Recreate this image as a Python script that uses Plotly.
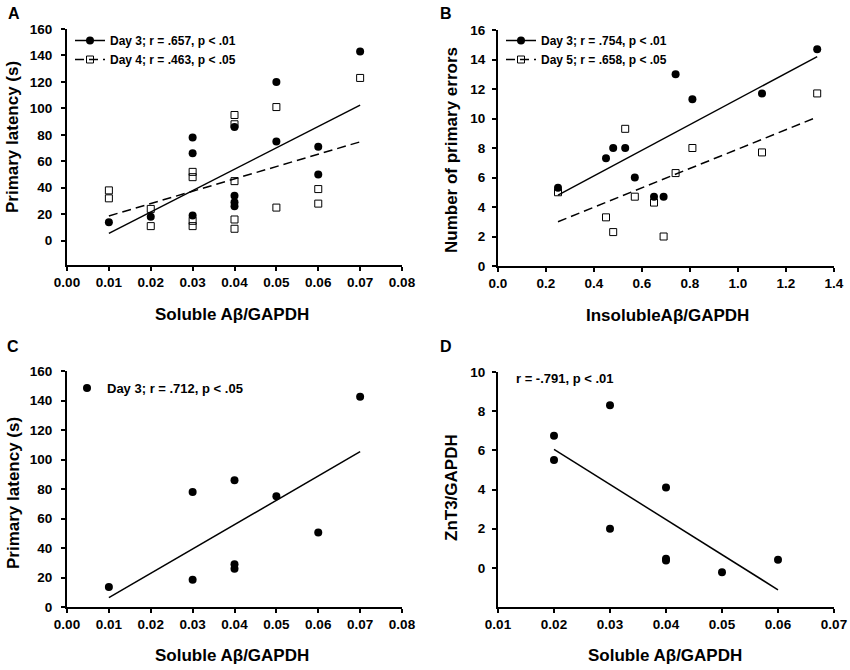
import plotly.graph_objects as go
from plotly.subplots import make_subplots

W, H = 850, 670

# panel A: soluble Abeta vs primary latency
a_x_day3 = [0.01, 0.02, 0.03, 0.03, 0.03, 0.04, 0.04, 0.04, 0.04, 0.05, 0.05, 0.06, 0.06, 0.07]
a_y_day3 = [14, 18, 78, 66, 19, 86, 34, 29, 26, 120, 75, 71, 50, 143]
a_x_day4 = [0.01, 0.01, 0.02, 0.02, 0.03, 0.03, 0.03, 0.03, 0.04, 0.04, 0.04, 0.04, 0.04,
            0.05, 0.05, 0.06, 0.06, 0.07]
a_y_day4 = [38, 32, 24, 11, 52, 48, 15, 11, 95, 88, 45, 16, 9, 101, 25, 39, 28, 123]
a_fit_x = [0.01, 0.07]
a_fit_day3 = [5.5, 102.5]
a_fit_day4 = [18.7, 74.7]

# panel B: insoluble Abeta vs number of primary errors
b_x = [0.25, 0.45, 0.48, 0.53, 0.57, 0.65, 0.69, 0.74, 0.81, 1.10, 1.33]
b_y_day3 = [5.3, 7.3, 8.0, 8.0, 6.0, 4.7, 4.7, 13.0, 11.3, 11.7, 14.7]
b_y_day5 = [5.0, 3.3, 2.3, 9.3, 4.7, 4.3, 2.0, 6.3, 8.0, 7.7, 11.7]
b_fit_x = [0.25, 1.33]
b_fit_day3 = [4.8, 14.2]
b_fit_day5 = [3.0, 10.1]

# panel C: soluble Abeta vs primary latency (day 3 subset)
c_x = [0.01, 0.03, 0.03, 0.04, 0.04, 0.04, 0.05, 0.06, 0.07]
c_y = [13.5, 78, 18.5, 86, 29, 26, 75, 50.5, 142.5]
c_fit_x = [0.01, 0.07]
c_fit_y = [6.3, 105.3]

# panel D: soluble Abeta vs ZnT3
d_x = [0.02, 0.02, 0.03, 0.03, 0.04, 0.04, 0.04, 0.05, 0.06]
d_y = [6.75, 5.5, 8.3, 2.0, 4.1, 0.46, 0.37, -0.22, 0.41]
d_fit_x = [0.02, 0.06]
d_fit_y = [6.05, -1.12]

FONT = "Liberation Sans, Arial, sans-serif"


def px(x):
    """window pixel -> paper fraction"""
    return x / W


def py(y):
    return 1 - y / H


fig = make_subplots(rows=2, cols=2)

filled = dict(symbol="circle", size=8, color="black")
hollow = dict(symbol="square-open", size=7, color="black", line=dict(width=1))
solid = dict(color="black", width=1.5)
dashed = dict(color="black", width=1.5, dash="9px,5px")

# A
fig.add_trace(go.Scatter(x=a_x_day3, y=a_y_day3, mode="markers", marker=filled, showlegend=False), 1, 1)
fig.add_trace(go.Scatter(x=a_x_day4, y=a_y_day4, mode="markers", marker=hollow, showlegend=False), 1, 1)
fig.add_trace(go.Scatter(x=a_fit_x, y=a_fit_day3, mode="lines", line=solid, showlegend=False), 1, 1)
fig.add_trace(go.Scatter(x=a_fit_x, y=a_fit_day4, mode="lines", line=dashed, showlegend=False), 1, 1)
fig.add_trace(go.Scatter(x=[None], y=[None], mode="lines+markers", marker=filled, line=solid,
                         name="Day 3; r = .657, p < .01", legend="legend"), 1, 1)
fig.add_trace(go.Scatter(x=[None], y=[None], mode="lines+markers", marker=hollow, line=dashed,
                         name="Day 4; r = .463, p < .05", legend="legend"), 1, 1)

# B
fig.add_trace(go.Scatter(x=b_x, y=b_y_day3, mode="markers", marker=filled, showlegend=False), 1, 2)
fig.add_trace(go.Scatter(x=b_x, y=b_y_day5, mode="markers", marker=hollow, showlegend=False), 1, 2)
fig.add_trace(go.Scatter(x=b_fit_x, y=b_fit_day3, mode="lines", line=solid, showlegend=False), 1, 2)
fig.add_trace(go.Scatter(x=b_fit_x, y=b_fit_day5, mode="lines", line=dashed, showlegend=False), 1, 2)
fig.add_trace(go.Scatter(x=[None], y=[None], mode="lines+markers", marker=filled, line=solid,
                         name="Day 3; r = .754, p < .01", legend="legend2"), 1, 2)
fig.add_trace(go.Scatter(x=[None], y=[None], mode="lines+markers", marker=hollow, line=dashed,
                         name="Day 5; r = .658, p < .05", legend="legend2"), 1, 2)

# C
fig.add_trace(go.Scatter(x=c_x, y=c_y, mode="markers", marker=filled,
                         name="Day 3; r = .712, p < .05", legend="legend3"), 2, 1)
fig.add_trace(go.Scatter(x=c_fit_x, y=c_fit_y, mode="lines", line=solid, showlegend=False), 2, 1)

# D
fig.add_trace(go.Scatter(x=d_x, y=d_y, mode="markers", marker=filled, showlegend=False), 2, 2)
fig.add_trace(go.Scatter(x=d_fit_x, y=d_fit_y, mode="lines", line=solid, showlegend=False), 2, 2)

axis_style = dict(showline=True, linecolor="black", linewidth=2, ticks="outside", ticklen=4,
                  tickwidth=1.5, tickcolor="black", showgrid=False, zeroline=False, automargin=False,
                  ticklabeloverflow="allow",
                  tickfont=dict(family=FONT, size=13.5, color="black", weight="bold"))

# plot area boxes in window pixels: left, right, top, bottom
boxes = {(1, 1): (67, 402, 29, 265), (1, 2): (498, 834, 30, 266),
         (2, 1): (67, 402, 371, 607), (2, 2): (498, 834, 372, 607)}
for (r, c), (l, rt, t, b) in boxes.items():
    fig.update_xaxes(row=r, col=c, domain=[px(l), px(rt)], **axis_style)
    fig.update_yaxes(row=r, col=c, domain=[py(b), py(t)], ticklabelstandoff=6, **axis_style)

fig.update_xaxes(row=1, col=1, range=[0, 0.08], dtick=0.01, tick0=0, tickformat=".2f")
fig.update_yaxes(row=1, col=1, range=[-18.4, 160], tickvals=[0, 20, 40, 60, 80, 100, 120, 140, 160])
fig.update_xaxes(row=1, col=2, range=[0, 1.4], dtick=0.2, tick0=0, tickformat=".1f")
fig.update_yaxes(row=1, col=2, range=[0, 16], dtick=2, tick0=0, ticklabelstandoff=4)
fig.update_xaxes(row=2, col=1, range=[0, 0.08], dtick=0.01, tick0=0, tickformat=".2f")
fig.update_yaxes(row=2, col=1, range=[0, 160], dtick=20, tick0=0)
fig.update_xaxes(row=2, col=2, range=[0.01, 0.07], dtick=0.01, tick0=0.01, tickformat=".2f")
fig.update_yaxes(row=2, col=2, range=[-2, 10], tickvals=[0, 2, 4, 6, 8, 10], ticklabelstandoff=4)

bold = dict(family=FONT, color="black", weight="bold")
legend_style = dict(bgcolor="rgba(0,0,0,0)", borderwidth=0, itemwidth=30, xanchor="left",
                    yanchor="top", font=dict(size=12, **bold), tracegroupgap=0)

annotations = []
# panel letters
for letter, (x, y) in {"A": (14, 13), "B": (446, 13), "C": (13, 346), "D": (446, 346)}.items():
    annotations.append(dict(text=letter, x=px(x), y=py(y), font=dict(size=16, **bold)))
# axis titles
x_titles = [("Soluble A\u03b2/GAPDH", 232, 314), ("InsolubleA\u03b2/GAPDH", 667, 315),
            ("Soluble A\u03b2/GAPDH", 232, 655), ("Soluble A\u03b2/GAPDH", 665, 655)]
for text, x, y in x_titles:
    annotations.append(dict(text=text, x=px(x), y=py(y), font=dict(size=17, **bold)))
y_titles = [("Primary latency (s)", 13, 137), ("Number of primary errors", 451, 150),
            ("Primary latency (s)", 13, 493), ("ZnT3/GAPDH", 451, 488)]
for text, x, y in y_titles:
    annotations.append(dict(text=text, x=px(x), y=py(y), textangle=-90, font=dict(size=17, **bold)))
annotations.append(dict(text="r = -.791, p < .01", x=px(514), y=py(378), xanchor="left",
                        font=dict(size=13, **bold)))
for a in annotations:
    a.setdefault("xanchor", "center")
    a.update(xref="paper", yref="paper", showarrow=False, yanchor="middle")

fig.update_layout(
    template="none",
    width=W, height=H, margin=dict(l=0, r=0, t=0, b=0, autoexpand=False),
    paper_bgcolor="white", plot_bgcolor="white",
    font=dict(family=FONT, color="black"),
    annotations=annotations,
    legend=dict(x=px(70), y=py(26), **legend_style),
    legend2=dict(x=px(501), y=py(26), **legend_style),
    legend3=dict(x=px(67), y=py(373), **{**legend_style, "font": dict(size=13, **bold)}),
)

# drop the default 8px body margin so the figure sits at the window corner
fig.write_html("out.html", config={"displayModeBar": False},
               post_script="document.body.style.margin = '0';")
